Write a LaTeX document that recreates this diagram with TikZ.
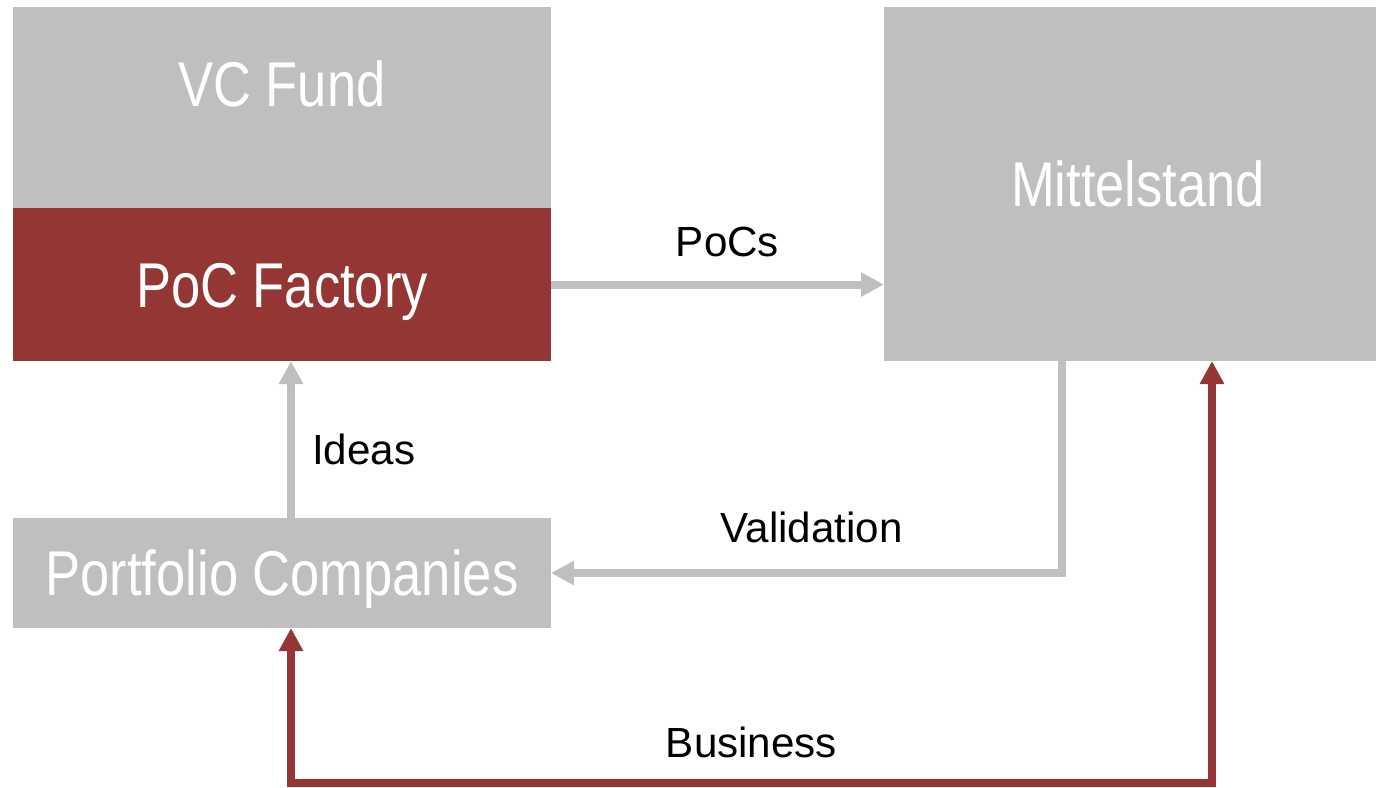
\documentclass[tikz,border=0pt]{standalone}
\usepackage{fontspec}
\setmainfont{Liberation Sans}
\newfontfamily\narrowfont[FakeStretch=0.83]{Liberation Sans}
\usepackage{xcolor}
\usetikzlibrary{arrows.meta,positioning}

\definecolor{boxgray}{HTML}{BFBFBF}
\definecolor{boxred}{HTML}{943634}

\tikzset{
  box/.style={fill=boxgray, inner sep=0pt, outer sep=0pt, minimum width=5.38cm,
    text=white, font=\narrowfont\fontsize{18}{21}\selectfont, text height=0.455cm, text depth=0cm},
  tip/.style={Triangle[length=0.23cm, width=0.23cm]},
  flow/.style={line width=0.08cm, color=boxgray, -{Triangle[length=0.23cm, width=0.23cm]}},
  lbl/.style={inner sep=0pt, text=black, font=\fontsize{12}{14}\selectfont}
}

\begin{document}
\begin{tikzpicture}
\useasboundingbox (0,0) rectangle (13.76,-7.87);

% bloky
\node[box, anchor=north west, minimum height=2.01cm, text depth=0.47cm] (vc) at (0.13,-0.07) {VC Fund};
\node[box, fill=boxred, minimum height=1.53cm, below=0pt of vc] (poc) {PoC Factory};
\node[box, anchor=north west, minimum width=4.92cm, minimum height=3.54cm] (mit) at ([xshift=3.33cm]vc.north east) {\hspace{0.16cm}Mittelstand};
\node[box, minimum height=1.10cm, below=1.57cm of poc] (pf) {Portfolio Companies};

% sipky
\draw[flow] (poc.east) -- (poc.east -| mit.west) node[lbl, pos=0.53, above=0.24cm] {PoCs};
\draw[flow] ([xshift=0.09cm]pf.north) -- ([xshift=0.09cm]poc.south) node[lbl, pos=0.44, right=0.17cm] {Ideas};
\draw[flow] ([xshift=-0.68cm]mit.south) |- (pf.east) node[lbl, pos=0.745, above=0.26cm] {Validation};

%% ... business (red, both ends)
\draw[flow, {Triangle[length=0.23cm, width=0.23cm]}-{Triangle[length=0.23cm, width=0.23cm]}, color=boxred]
  ([xshift=0.09cm]pf.south) -- ++(0,-1.55) -| ([xshift=0.82cm]mit.south)
  node[lbl, pos=0.25, above=0.21cm] {Business};

\end{tikzpicture}
\end{document}
